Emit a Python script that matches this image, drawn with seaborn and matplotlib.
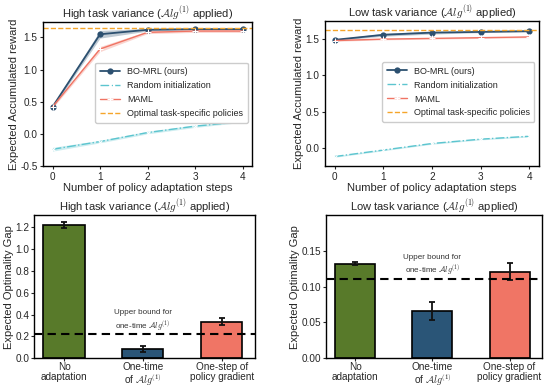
import numpy as np
import pandas as pd
import matplotlib
matplotlib.use("Agg")
import matplotlib.pyplot as plt
import seaborn as sns

# ---- data ----
steps = [0, 1, 2, 3, 4]

# high task variance
hi_bomrl = [0.42, 1.55, 1.62, 1.63, 1.63]
hi_bomrl_sd = [0.02, 0.06, 0.02, 0.01, 0.01]
hi_random = [-0.24, -0.12, 0.02, 0.12, 0.19]
hi_random_sd = [0.03, 0.02, 0.02, 0.02, 0.01]
hi_maml = [0.42, 1.32, 1.58, 1.60, 1.60]
hi_maml_sd = [0.02, 0.04, 0.02, 0.02, 0.02]
hi_optimal = 1.64

# low task variance
lo_bomrl = [1.49, 1.56, 1.59, 1.60, 1.61]
lo_bomrl_sd = [0.01, 0.02, 0.02, 0.01, 0.01]
lo_random = [-0.12, -0.03, 0.06, 0.12, 0.16]
lo_random_sd = [0.01, 0.01, 0.01, 0.01, 0.01]
lo_maml = [1.48, 1.50, 1.51, 1.52, 1.53]
lo_maml_sd = [0.01, 0.01, 0.01, 0.01, 0.01]
lo_optimal = 1.62

bar_labels = ["No\nadaptation", "One-time\nof $\\mathcal{A}lg^{(1)}$", "One-step of\npolicy gradient"]
hi_gap = [1.22, 0.085, 0.335]
hi_gap_err = [0.025, 0.03, 0.03]
hi_bound = 0.22
lo_gap = [0.132, 0.066, 0.121]
lo_gap_err = [0.002, 0.012, 0.012]
lo_bound = 0.11

c_bomrl = "#2c5070"
c_random = "#5cc5cf"
c_maml = "#f07464"
c_opt = "#f5a52a"
bar_colors = ["#587a2a", "#2a5577", "#f07565"]

sns.set_style("white")
plt.rcParams['font.family'] = ['Liberation Sans', 'DejaVu Sans']
plt.rcParams['mathtext.fontset'] = 'cm'
plt.rcParams['xtick.bottom'] = True
plt.rcParams['ytick.left'] = True
plt.rcParams['axes.edgecolor'] = 'black'

fig = plt.figure(figsize=(5.46, 3.89), dpi=100)

ax_tl = fig.add_axes([0.0788, 0.5733, 0.3828, 0.370])
ax_tr = fig.add_axes([0.5952, 0.5733, 0.392, 0.3727])
ax_bl = fig.add_axes([0.0623, 0.0790, 0.4048, 0.3683])
ax_br = fig.add_axes([0.597, 0.0790, 0.3956, 0.3683])


def reward_panel(ax, bomrl, bomrl_sd, rnd, rnd_sd, maml, maml_sd, opt, title, ylim, leg_y):
    x = np.array(steps)
    for vals, sd, col in [(bomrl, bomrl_sd, c_bomrl), (rnd, rnd_sd, c_random), (maml, maml_sd, c_maml)]:
        v = np.array(vals)
        s = np.array(sd)
        ax.fill_between(x, v - s, v + s, color=col, alpha=0.3, lw=0)
    sns.lineplot(x=steps, y=bomrl, ax=ax, color=c_bomrl, marker='o', markersize=4.5,
                 markeredgewidth=0, lw=1.3, label='BO-MRL (ours)')
    sns.lineplot(x=steps, y=rnd, ax=ax, color=c_random, marker='x', markersize=3.5,
                 lw=1.0, linestyle='-.', label='Random initialization')
    sns.lineplot(x=steps, y=maml, ax=ax, color=c_maml, marker='+', markersize=4,
                 lw=1.0, label='MAML')
    ax.axhline(opt, color=c_opt, ls='--', lw=1.0, label='Optimal task-specific policies')
    ax.set_xlim(-0.2, 4.2)
    ax.set_ylim(*ylim)
    ax.set_xticks(steps)
    ax.set_yticks([0.0, 0.5, 1.0, 1.5] if ylim[0] > -0.5 else [-0.5, 0.0, 0.5, 1.0, 1.5])
    ax.set_yticklabels([f"{t:.1f}" for t in ax.get_yticks()])
    ax.tick_params(labelsize=7.2, length=2.5, width=0.8, pad=1.5)
    ax.set_xlabel('Number of policy adaptation steps', fontsize=8, labelpad=1)
    ax.set_ylabel('Expected Accumulated reward', fontsize=8, labelpad=1)
    ax.set_title(title, fontsize=8, pad=3)
    ax.legend(loc='center right', bbox_to_anchor=(1.0, leg_y), fontsize=6.5,
              frameon=True, framealpha=1, edgecolor='#cccccc', handlelength=2.2,
              borderpad=0.5, labelspacing=0.55)
    for sp in ax.spines.values():
        sp.set_linewidth(1.0)


reward_panel(ax_tl, hi_bomrl, hi_bomrl_sd, hi_random, hi_random_sd, hi_maml, hi_maml_sd,
             hi_optimal, 'High task variance ($\\mathcal{A}lg^{(1)}$ applied)', (-0.5, 1.74), 0.51)
reward_panel(ax_tr, lo_bomrl, lo_bomrl_sd, lo_random, lo_random_sd, lo_maml, lo_maml_sd,
             lo_optimal, 'Low task variance ($\\mathcal{A}lg^{(1)}$ applied)', (-0.25, 1.75), 0.51)


def gap_panel(ax, gap, err, bound, title, ylim, yticks, fmt, txt_y):
    df = pd.DataFrame({'method': bar_labels, 'gap': gap})
    sns.barplot(data=df, x='method', y='gap', hue='method', palette=bar_colors,
                ax=ax, width=0.52, edgecolor='black', linewidth=1.2, legend=False,
                saturation=1)
    ax.errorbar(range(len(gap)), gap, yerr=err, fmt='none', ecolor='#111111',
                elinewidth=1.3, capsize=2.5, capthick=1.3)
    ax.axhline(bound, color='black', ls='--', lw=1.5, dashes=(4, 2.5))
    ax.text(1.0, txt_y, 'Upper bound for\none-time $\\mathcal{A}lg^{(1)}$', ha='center',
            va='center', fontsize=5.8, color='#333333', linespacing=1.2)
    ax.set_xlim(-0.38, 2.42)
    ax.set_ylim(*ylim)
    ax.set_yticks(yticks)
    ax.set_yticklabels([fmt.format(t) for t in yticks])
    ax.set_xlabel('')
    ax.set_ylabel('Expected Optimality Gap', fontsize=8, labelpad=1)
    ax.set_title(title, fontsize=8, pad=3)
    ax.tick_params(labelsize=7.2, length=2.5, width=0.8, pad=1)
    ax.tick_params(axis='x', pad=0.5)
    for lab in ax.get_xticklabels():
        lab.set_linespacing(0.95)
    for sp in ax.spines.values():
        sp.set_linewidth(1.0)


gap_panel(ax_bl, hi_gap, hi_gap_err, hi_bound, 'High task variance ($\\mathcal{A}lg^{(1)}$ applied)',
          (0, 1.31), [0.0, 0.2, 0.4, 0.6, 0.8, 1.0, 1.2], "{:.1f}", 0.34)
gap_panel(ax_br, lo_gap, lo_gap_err, lo_bound, 'Low task variance ($\\mathcal{A}lg^{(1)}$ applied)',
          (0, 0.2), [0.0, 0.05, 0.10, 0.15], "{:.2f}", 0.129)

fig.savefig('out.png', dpi=100)
